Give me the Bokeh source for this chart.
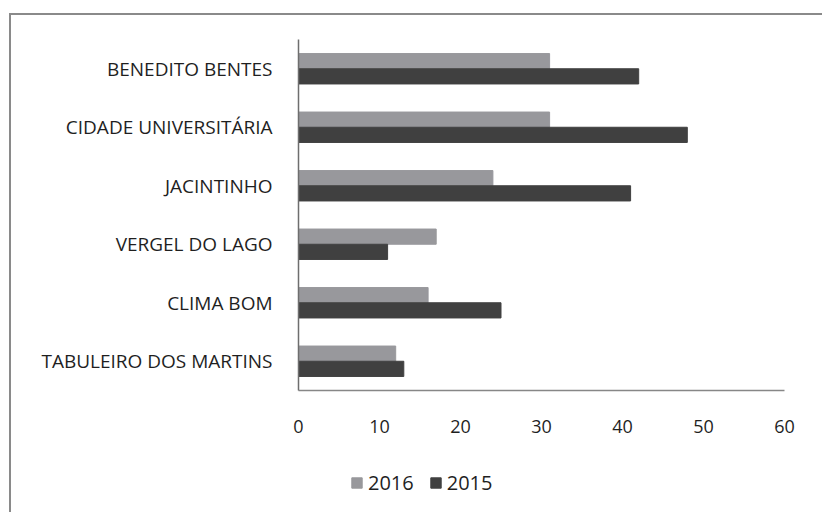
from bokeh.plotting import figure
from bokeh.layouts import column
from bokeh.models import Range1d, FactorRange, FixedTicker, Legend, LegendItem, ColumnDataSource
from bokeh.transform import dodge
from bokeh.embed import file_html
from bokeh.resources import INLINE

categories = ["BENEDITO BENTES", "CIDADE UNIVERSITÁRIA", "JACINTINHO",
              "VERGEL DO LAGO", "CLIMA BOM", "TABULEIRO DOS MARTINS"]
values_2016 = [31, 31, 24, 17, 16, 12]
values_2015 = [42, 48, 41, 11, 25, 13]
series_names = ["2016", "2015"]
x_ticks = [0, 10, 20, 30, 40, 50, 60]

FONT = "Open Sans"
C2016 = "#98989c"
C2015 = "#404040"
TXT = "#1f1f1f"
BORDER = "2px solid #8a8a8a"

source = ColumnDataSource(data=dict(cat=categories, v2016=values_2016, v2015=values_2015))

p = figure(frame_width=484, frame_height=349, output_backend="svg", toolbar_location=None,
           y_range=FactorRange(factors=list(reversed(categories)), range_padding=0),
           x_range=Range1d(0, 60),
           min_border_left=287, min_border_right=40, min_border_top=24, min_border_bottom=72)
p.styles = {"border-top": BORDER, "border-left": BORDER}

r16 = p.hbar(y=dodge("cat", 0.13, range=p.y_range), right="v2016", left=0, height=0.26,
             source=source, fill_color=C2016, line_color=C2016)
r15 = p.hbar(y=dodge("cat", -0.13, range=p.y_range), right="v2015", left=0, height=0.26,
             source=source, fill_color=C2015, line_color=C2015)

p.outline_line_color = None
p.xgrid.visible = False
p.ygrid.visible = False

xa = p.xaxis[0]
xa.ticker = FixedTicker(ticks=x_ticks)
xa.major_tick_line_color = None
xa.minor_tick_line_color = None
xa.major_tick_out = 0
xa.major_tick_in = 0
xa.axis_line_color = "#878787"
xa.axis_line_width = 1.5
xa.major_label_text_font = FONT
xa.major_label_text_font_size = "18px"
xa.major_label_text_color = TXT
xa.major_label_standoff = 29

ya = p.yaxis[0]
ya.major_tick_line_color = None
ya.minor_tick_line_color = None
ya.major_tick_out = 0
ya.major_tick_in = 0
ya.axis_line_color = "#6e6e6e"
ya.axis_line_width = 1.5
ya.major_label_text_font = FONT
ya.major_label_text_font_size = "19px"
ya.major_label_text_color = TXT
ya.major_label_standoff = 26

# legend strip below the chart (its own frame, aligned with the chart's frame);
# its renderers only provide the legend swatches (their factors are outside its range)
q = figure(width=811, height=52, output_backend="svg", toolbar_location=None,
           x_axis_type=None, y_axis_type=None, min_border=0,
           x_range=Range1d(0, 60), y_range=FactorRange(factors=["legend"]))
q.styles = {"border-left": BORDER}
q.outline_line_color = None
l16 = q.hbar(y="cat", right="v2016", left=0, height=0.5, source=source,
             fill_color=C2016, line_color=C2016)
l15 = q.hbar(y="cat", right="v2015", left=0, height=0.5, source=source,
             fill_color=C2015, line_color=C2015)

legend = Legend(items=[LegendItem(label=series_names[0], renderers=[l16]),
                       LegendItem(label=series_names[1], renderers=[l15])],
                orientation="horizontal", location=(52, 16),
                padding=0, margin=0, spacing=15, label_standoff=5,
                glyph_width=13, glyph_height=13,
                border_line_alpha=0, background_fill_alpha=0,
                label_text_font=FONT, label_text_font_size="20px",
                label_text_color=TXT)
q.add_layout(legend, "center")

layout = column(p, q, spacing=0)
layout.margin = (13, 0, 0, 9)

open("out.html", "w").write(file_html(layout, INLINE))
